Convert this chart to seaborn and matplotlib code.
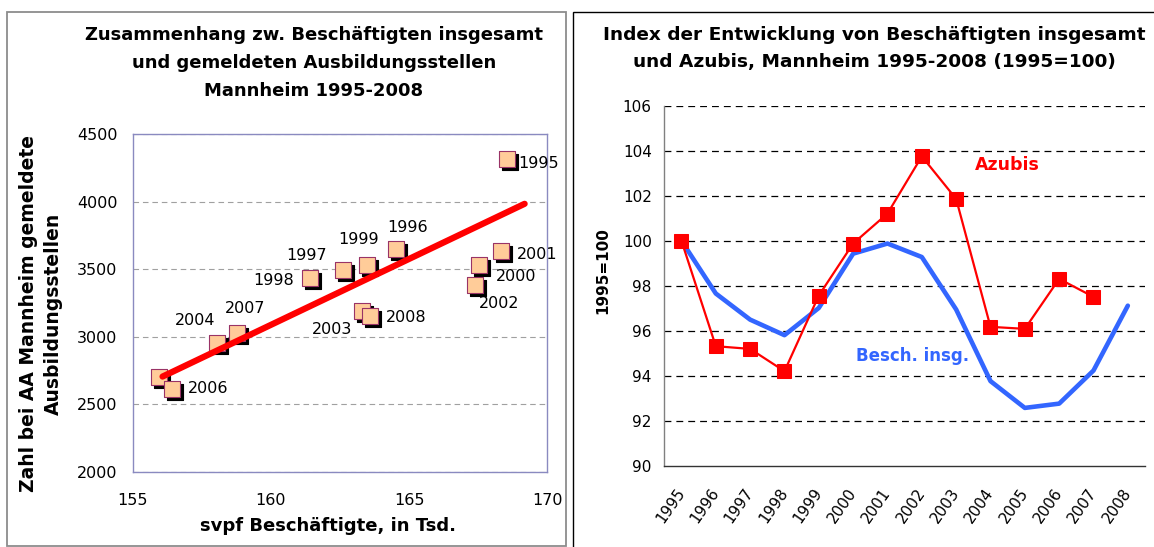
import numpy as np
import pandas as pd
import matplotlib
matplotlib.use("Agg")
import matplotlib.pyplot as plt
import matplotlib.transforms as mtransforms
from matplotlib.patches import Rectangle
import seaborn as sns

# ---------------- data: left scatter ----------------
sc_years = ["1995", "1996", "1997", "1998", "1999", "2000", "2001",
            "2002", "2003", "2004", "2005", "2006", "2007", "2008"]
sc_besch = [168.53, 164.52, 162.61, 161.41, 163.46, 167.53, 168.34,
            167.37, 163.31, 158.04, 155.96, 156.41, 158.78, 163.60]
sc_stellen = [4320, 3648, 3496, 3434, 3533, 3533, 3639,
              3380, 3194, 2951, 2698, 2616, 3025, 3152]
sc_labels = ["1995", "1996", "1997", "1998", "1999", "2000", "2001",
             "2002", "2003", "2004", "", "2006", "2007", "2008"]
trend_x = [156.08, 169.18]
trend_y = [2705, 3985]

# ---------------- data: right index lines ----------------
years = [1995, 1996, 1997, 1998, 1999, 2000, 2001,
         2002, 2003, 2004, 2005, 2006, 2007, 2008]
azubis = [100.0, 95.32, 95.20, 94.21, 97.57, 99.88, 101.21,
          103.75, 101.86, 96.18, 96.09, 98.31, 97.51, np.nan]
besch = [100.0, 97.66, 96.50, 95.81, 97.02, 99.43, 99.88,
         99.28, 96.95, 93.77, 92.58, 92.77, 94.24, 97.12]

left_title = ("Zusammenhang zw. Beschäftigten insgesamt\n"
              "und gemeldeten Ausbildungsstellen\nMannheim 1995-2008")
right_title = ("Index der Entwicklung von Beschäftigten insgesamt\n"
               "und Azubis, Mannheim 1995-2008 (1995=100)")

# label placement (pixel offsets from point, y down) -- layout only
label_layout = {
    "1995": (12, 5, "left"), "1996": (12, -22, "center"),
    "1999": (-8, -25, "center"), "1997": (-36, -14, "center"),
    "1998": (-36, 2, "center"), "2004": (-22, -23, "center"),
    "2007": (8, -25, "center"), "2006": (36, 0, "center"),
    "2003": (-30, 19, "center"), "2008": (36, 1, "center"),
    "2000": (37, 12, "center"), "2001": (36, 4, "center"),
    "2002": (25, 18, "center"),
}

sns.set_style("white")
plt.rcParams["font.family"] = ["DejaVu Sans"]
plt.rcParams["text.color"] = "black"
plt.rcParams["axes.labelcolor"] = "black"
plt.rcParams["xtick.color"] = "black"
plt.rcParams["ytick.color"] = "black"

W, H = 1154, 547
fig = plt.figure(figsize=(W / 100, H / 100), dpi=100)


def fx(px):
    return px / W


def fy(py):
    return 1 - py / H


# panel frames
fig.add_artist(Rectangle((fx(7), fy(546)), fx(566) - fx(7), fy(12) - fy(546),
                         transform=fig.transFigure, fill=False,
                         edgecolor="#8c8c8c", lw=1.3))
fig.add_artist(Rectangle((fx(573), fy(560)), 0.6, fy(12) - fy(560),
                         transform=fig.transFigure, fill=False,
                         edgecolor="black", lw=1.0))

# ---------------- left scatter ----------------
ax1 = fig.add_axes([fx(132.7), fy(471.7), fx(547.3) - fx(132.7), fy(134.3) - fy(471.7)])
df_sc = pd.DataFrame({"besch": sc_besch, "stellen": sc_stellen, "jahr": sc_years})

ax1.yaxis.grid(True, linestyle=(0, (5, 3.5)), color="#a0a0a0", lw=0.8)
ax1.set_axisbelow(True)

sns.scatterplot(data=df_sc, x="besch", y="stellen", ax=ax1, marker="s", s=135,
                color="black", edgecolor="black", linewidth=0.8, zorder=3)
shadow = ax1.collections[-1]
shadow.set_offset_transform(mtransforms.offset_copy(ax1.transData, fig=fig, x=3, y=-3, units="dots"))
sns.scatterplot(data=df_sc, x="besch", y="stellen", ax=ax1, marker="s", s=135,
                color="#FFCC99", edgecolor="#993366", linewidth=0.8, zorder=4)
sns.lineplot(x=trend_x, y=trend_y, ax=ax1, color="#FF0000", lw=4.5, zorder=5)

for xv, yv, lbl in zip(sc_besch, sc_stellen, sc_labels):
    if not lbl:
        continue
    dx, dy, ha = label_layout[lbl]
    ax1.annotate(lbl, (xv, yv), xytext=(dx, -dy), textcoords="offset pixels",
                 ha=ha, va="center", fontsize=11.5, color="black", zorder=6)

ax1.set_xlim(155, 170)
ax1.set_ylim(2000, 4500)
ax1.set_xticks([155, 160, 165, 170])
ax1.set_yticks([2000, 2500, 3000, 3500, 4000, 4500])
for sp in ax1.spines.values():
    sp.set_visible(True)
    sp.set_color("#8a8ac0")
    sp.set_linewidth(1.0)
ax1.tick_params(axis="both", direction="out", length=5, width=0.8, color="#808080",
                labelsize=11.5, labelcolor="black")
ax1.tick_params(axis="x", pad=10)
ax1.tick_params(axis="y", pad=6)
ax1.set_xlabel("svpf Beschäftigte, in Tsd.", fontsize=13, fontweight="bold")
ax1.xaxis.set_label_coords((328 - 132.7) / 414.6, (471.7 - 526) / 337.4)
ax1.xaxis.label.set_va("center")
ax1.set_ylabel("Zahl bei AA Mannheim gemeldete\nAusbildungsstellen", fontsize=13.5,
               fontweight="bold", linespacing=1.4)
ax1.yaxis.set_label_coords((41.0 - 132.7) / 414.6, (471.7 - 314) / 337.4)
ax1.yaxis.label.set_va("center")

fig.text(fx(314), fy(63), left_title, ha="center", va="center", fontsize=13,
         fontweight="bold", linespacing=1.7)

# ---------------- right lines ----------------
ax2 = fig.add_axes([fx(664.3), fy(466), fx(1145) - fx(664.3), fy(105.7) - fy(466)])
df_idx = pd.DataFrame({"jahr": years, "Azubis": azubis, "Besch": besch})

ax2.set_ylim(90, 106)
ax2.set_yticks(np.arange(90, 107, 2))
ax2.set_xlim(1994.5, 2008.5)
for yv in np.arange(92, 107, 2):
    ax2.axhline(yv, color="black", lw=0.9, linestyle=(0, (5.5, 4)), zorder=1)

sns.lineplot(data=df_idx, x="jahr", y="Besch", ax=ax2, color="#3366FF", lw=3.3, zorder=3)
sns.lineplot(data=df_idx, x="jahr", y="Azubis", ax=ax2, color="#FF0000", lw=1.6,
             marker="s", markersize=9.5, markeredgecolor="#FF0000",
             markerfacecolor="#FF0000", zorder=4)

ax2.text(2003.56, 103.38, "Azubis", color="#FF0000", fontsize=12.5,
         fontweight="bold", ha="left", va="center")
ax2.text(2000.07, 94.9, "Besch. insg.", color="#3366FF", fontsize=12,
         fontweight="bold", ha="left", va="center")

ax2.set_xticks(np.arange(1994.5, 2009, 1))
ax2.set_xticklabels([])
ax2.set_xticks(years, minor=True)
ax2.set_xticklabels([str(y) for y in years], minor=True, rotation=55,
                    ha="right", va="center", rotation_mode="anchor", fontsize=11)
shift = mtransforms.ScaledTranslation(-4 / 100, 0, fig.dpi_scale_trans)
for lbl in ax2.get_xticklabels(minor=True):
    lbl.set_transform(lbl.get_transform() + shift)
ax2.tick_params(axis="x", which="major", direction="out", length=5, width=0.9, color="#555555")
ax2.tick_params(axis="x", which="minor", length=0, pad=17)
ax2.tick_params(axis="y", direction="out", length=5, width=0.9, color="#808080",
                labelsize=11, pad=4)
for name, sp in ax2.spines.items():
    if name in ("top", "right"):
        sp.set_visible(False)
    else:
        sp.set_visible(True)
        sp.set_linewidth(1.0)
ax2.spines["left"].set_color("#808080")
ax2.spines["bottom"].set_color("#333333")
ax2.set_xlabel("")
ax2.set_ylabel("1995=100", fontsize=11, fontweight="bold")
ax2.yaxis.set_label_coords((602.5 - 664.3) / 480.7, (466 - 271) / 360.3)
ax2.yaxis.label.set_va("center")

fig.text(fx(874), fy(48.5), right_title, ha="center", va="center", fontsize=13.3,
         fontweight="bold", linespacing=1.6)

fig.savefig("out.png", dpi=100, facecolor="white")
